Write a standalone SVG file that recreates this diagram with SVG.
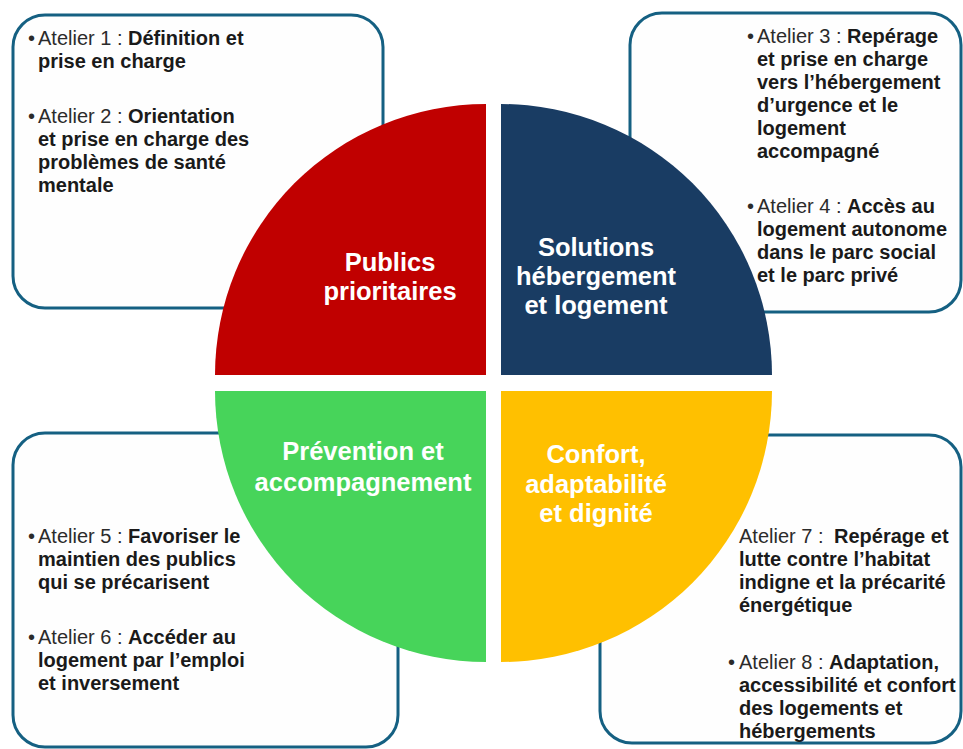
<svg xmlns="http://www.w3.org/2000/svg" width="963" height="749" viewBox="0 0 963 749">
<style>
.box{fill:#fefefe;stroke:#156082;stroke-width:3}
.t{font-family:"Liberation Sans",Arial,sans-serif;font-size:20px;fill:#1a1a1a}
.r{font-weight:400;fill:#2b2b2b}
.b{font-weight:700}
.lab{font-family:"Liberation Sans",Arial,sans-serif;font-size:25.5px;font-weight:700;fill:#ffffff;text-anchor:middle}
</style>
<rect width="963" height="749" fill="#ffffff"/>
<g id="box1">
<rect class="box" x="13" y="15" width="370" height="293" rx="32"/>
<text class="t" x="28" y="45"><tspan class="r">•</tspan><tspan class="r" x="38">Atelier 1 : </tspan><tspan class="b">Définition et</tspan></text>
<text class="t b" x="38" y="68">prise en charge</text>
<text class="t" x="28" y="123"><tspan class="r">•</tspan><tspan class="r" x="38">Atelier 2 : </tspan><tspan class="b">Orientation</tspan></text>
<text class="t b" x="38" y="146">et prise en charge des</text>
<text class="t b" x="38" y="169">problèmes de santé</text>
<text class="t b" x="38" y="192">mentale</text>
</g>
<g id="box2">
<rect class="box" x="630" y="13" width="331" height="299" rx="32"/>
<text class="t" x="747" y="43"><tspan class="r">•</tspan><tspan class="r" x="757">Atelier 3 : </tspan><tspan class="b">Repérage</tspan></text>
<text class="t b" x="757" y="66">et prise en charge</text>
<text class="t b" x="757" y="89">vers l’hébergement</text>
<text class="t b" x="757" y="112">d’urgence et le</text>
<text class="t b" x="757" y="135">logement</text>
<text class="t b" x="757" y="158">accompagné</text>
<text class="t" x="747" y="213"><tspan class="r">•</tspan><tspan class="r" x="757">Atelier 4 : </tspan><tspan class="b">Accès au</tspan></text>
<text class="t b" x="757" y="236">logement autonome</text>
<text class="t b" x="757" y="259">dans le parc social</text>
<text class="t b" x="757" y="282">et le parc privé</text>
</g>
<g id="box3">
<rect class="box" x="13" y="433" width="385" height="314" rx="32"/>
<text class="t" x="28" y="543"><tspan class="r">•</tspan><tspan class="r" x="38">Atelier 5 : </tspan><tspan class="b">Favoriser le</tspan></text>
<text class="t b" x="38" y="566">maintien des publics</text>
<text class="t b" x="38" y="589">qui se précarisent</text>
<text class="t" x="28" y="644"><tspan class="r">•</tspan><tspan class="r" x="38">Atelier 6 : </tspan><tspan class="b">Accéder au</tspan></text>
<text class="t b" x="38" y="667">logement par l’emploi</text>
<text class="t b" x="38" y="690">et inversement</text>
</g>
<g id="box4">
<rect class="box" x="600" y="435" width="361" height="308" rx="32"/>
<text class="t" x="739" y="543"><tspan class="r">Atelier 7 : </tspan><tspan class="b" dx="5">Repérage et</tspan></text>
<text class="t b" x="739" y="566">lutte contre l’habitat</text>
<text class="t b" x="739" y="589">indigne et la précarité</text>
<text class="t b" x="739" y="612">énergétique</text>
<text class="t" x="728" y="669"><tspan class="r">•</tspan><tspan class="r" x="739">Atelier 8 : </tspan><tspan class="b">Adaptation,</tspan></text>
<text class="t b" x="739" y="692">accessibilité et confort</text>
<text class="t b" x="739" y="715">des logements et</text>
<text class="t b" x="739" y="738">hébergements</text>
</g>
<g id="connectors"></g>
<g id="q-publics">
<path d="M486,375 H215 A271,271 0 0 1 486,104 Z" fill="#c00000"/>
<text class="lab" x="390" y="271">Publics</text>
<text class="lab" x="390" y="300">prioritaires</text>
</g>
<g id="q-solutions">
<path d="M501,375 V104 A271,271 0 0 1 772,375 Z" fill="#193c63"/>
<text class="lab" x="596" y="256">Solutions</text>
<text class="lab" x="596" y="285">hébergement</text>
<text class="lab" x="596" y="314">et logement</text>
</g>
<g id="q-prevention">
<path d="M486,391 H215 A271,271 0 0 0 486,662 Z" fill="#47d45a"/>
<text class="lab" x="363" y="460">Prévention et</text>
<text class="lab" x="363" y="491">accompagnement</text>
</g>
<g id="q-confort">
<path d="M501,391 H772 A271,271 0 0 1 501,662 Z" fill="#ffc000"/>
<text class="lab" x="596" y="463">Confort,</text>
<text class="lab" x="596" y="493">adaptabilité</text>
<text class="lab" x="596" y="522">et dignité</text>
</g>
</svg>
